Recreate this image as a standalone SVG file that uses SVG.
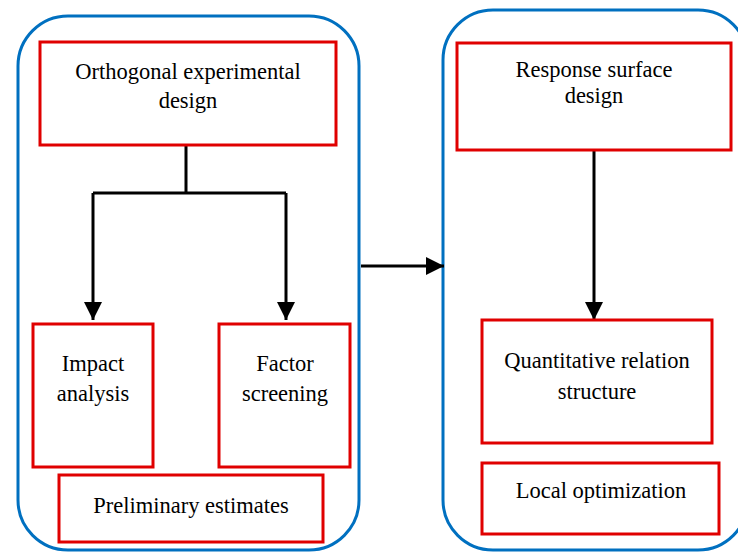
<svg xmlns="http://www.w3.org/2000/svg" width="738" height="552" viewBox="0 0 738 552">
<style>
.grp{fill:none;stroke:#0070C0;stroke-width:3}
.box{fill:#fff;stroke:#E00000;stroke-width:3}
.t{font-family:'Liberation Serif','Times New Roman',Times,Tinos,'Noto Serif','DejaVu Serif',FreeSerif,serif;font-size:22.5px;fill:#000;text-anchor:middle}
.ln{fill:none;stroke:#000;stroke-width:3}
</style>
<defs>
<marker id="ah" viewBox="0 0 20 18" refX="18" refY="9" markerWidth="20" markerHeight="18" markerUnits="userSpaceOnUse" orient="auto">
<path d="M0,0 L18,9 L0,18 Z" fill="#000"/>
</marker>
</defs>
<g id="group-left"><rect class="grp" x="18" y="16" width="341" height="534" rx="50" ry="50"/></g>
<g id="group-right"><rect class="grp" x="443" y="10" width="305" height="540" rx="50" ry="50"/></g>
<g id="connectors">
<path class="ln" d="M186,145 V193 M93,193 H286"/>
<path class="ln" d="M93,193 V320" marker-end="url(#ah)"/>
<path class="ln" d="M286,193 V320" marker-end="url(#ah)"/>
<path class="ln" d="M361,266 H444" marker-end="url(#ah)"/>
<path class="ln" d="M594,150 V320" marker-end="url(#ah)"/>
</g>
<g id="orthogonal">
<rect class="box" x="40" y="42" width="296" height="103"/>
<text class="t" x="188" y="79">Orthogonal experimental</text>
<text class="t" x="188" y="108">design</text>
</g>
<g id="impact">
<rect class="box" x="33" y="324" width="120" height="143"/>
<text class="t" x="93" y="371">Impact</text>
<text class="t" x="93" y="401">analysis</text>
</g>
<g id="factor">
<rect class="box" x="219" y="324" width="131" height="143"/>
<text class="t" x="285" y="371">Factor</text>
<text class="t" x="285" y="401">screening</text>
</g>
<g id="preliminary">
<rect class="box" x="59" y="475" width="264" height="67"/>
<text class="t" x="191" y="513">Preliminary estimates</text>
</g>
<g id="response">
<rect class="box" x="457" y="43" width="274" height="107"/>
<text class="t" x="594" y="77">Response surface</text>
<text class="t" x="594" y="103">design</text>
</g>
<g id="quantitative">
<rect class="box" x="482" y="320" width="230" height="123"/>
<text class="t" x="597" y="368">Quantitative relation</text>
<text class="t" x="597" y="399">structure</text>
</g>
<g id="local">
<rect class="box" x="482" y="463" width="237" height="71"/>
<text class="t" x="601" y="498">Local optimization</text>
</g>
</svg>
